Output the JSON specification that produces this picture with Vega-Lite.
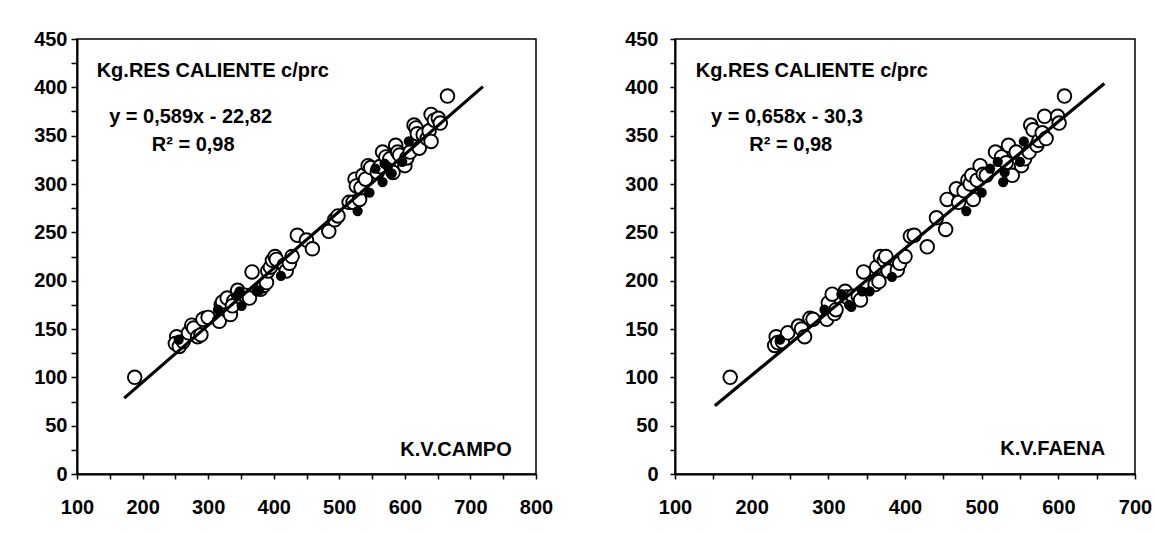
{
  "$schema": "https://vega.github.io/schema/vega-lite/v6.json",
  "padding": {"left": 0, "top": 28, "right": 5, "bottom": 5},
  "background": "white",
  "datasets": {
    "campo": [
      {"kv": 188, "kg": 100, "tipo": "abierto"},
      {"kv": 252, "kg": 142, "tipo": "abierto"},
      {"kv": 250, "kg": 135, "tipo": "abierto"},
      {"kv": 256, "kg": 132, "tipo": "abierto"},
      {"kv": 262, "kg": 137, "tipo": "abierto"},
      {"kv": 270, "kg": 146, "tipo": "abierto"},
      {"kv": 275, "kg": 154, "tipo": "abierto"},
      {"kv": 278, "kg": 151, "tipo": "abierto"},
      {"kv": 284, "kg": 142, "tipo": "abierto"},
      {"kv": 289, "kg": 144, "tipo": "abierto"},
      {"kv": 295, "kg": 161, "tipo": "abierto"},
      {"kv": 292, "kg": 160, "tipo": "abierto"},
      {"kv": 300, "kg": 162, "tipo": "abierto"},
      {"kv": 317, "kg": 158, "tipo": "abierto"},
      {"kv": 320, "kg": 175, "tipo": "abierto"},
      {"kv": 322, "kg": 178, "tipo": "abierto"},
      {"kv": 329, "kg": 182, "tipo": "abierto"},
      {"kv": 334, "kg": 165, "tipo": "abierto"},
      {"kv": 339, "kg": 179, "tipo": "abierto"},
      {"kv": 337, "kg": 174, "tipo": "abierto"},
      {"kv": 346, "kg": 186, "tipo": "abierto"},
      {"kv": 345, "kg": 190, "tipo": "abierto"},
      {"kv": 351, "kg": 182, "tipo": "abierto"},
      {"kv": 356, "kg": 185, "tipo": "abierto"},
      {"kv": 363, "kg": 182, "tipo": "abierto"},
      {"kv": 367, "kg": 209, "tipo": "abierto"},
      {"kv": 380, "kg": 191, "tipo": "abierto"},
      {"kv": 385, "kg": 195, "tipo": "abierto"},
      {"kv": 389, "kg": 198, "tipo": "abierto"},
      {"kv": 391, "kg": 210, "tipo": "abierto"},
      {"kv": 395, "kg": 214, "tipo": "abierto"},
      {"kv": 398, "kg": 221, "tipo": "abierto"},
      {"kv": 402, "kg": 225, "tipo": "abierto"},
      {"kv": 404, "kg": 222, "tipo": "abierto"},
      {"kv": 416, "kg": 216, "tipo": "abierto"},
      {"kv": 419, "kg": 210, "tipo": "abierto"},
      {"kv": 424, "kg": 218, "tipo": "abierto"},
      {"kv": 428, "kg": 225, "tipo": "abierto"},
      {"kv": 436, "kg": 247, "tipo": "abierto"},
      {"kv": 450, "kg": 242, "tipo": "abierto"},
      {"kv": 459, "kg": 233, "tipo": "abierto"},
      {"kv": 484, "kg": 251, "tipo": "abierto"},
      {"kv": 493, "kg": 263, "tipo": "abierto"},
      {"kv": 498, "kg": 267, "tipo": "abierto"},
      {"kv": 515, "kg": 281, "tipo": "abierto"},
      {"kv": 521, "kg": 281, "tipo": "abierto"},
      {"kv": 524, "kg": 305, "tipo": "abierto"},
      {"kv": 526, "kg": 298, "tipo": "abierto"},
      {"kv": 531, "kg": 284, "tipo": "abierto"},
      {"kv": 533, "kg": 296, "tipo": "abierto"},
      {"kv": 536, "kg": 309, "tipo": "abierto"},
      {"kv": 540, "kg": 305, "tipo": "abierto"},
      {"kv": 544, "kg": 319, "tipo": "abierto"},
      {"kv": 548, "kg": 317, "tipo": "abierto"},
      {"kv": 558, "kg": 312, "tipo": "abierto"},
      {"kv": 562, "kg": 318, "tipo": "abierto"},
      {"kv": 566, "kg": 333, "tipo": "abierto"},
      {"kv": 571, "kg": 328, "tipo": "abierto"},
      {"kv": 577, "kg": 326, "tipo": "abierto"},
      {"kv": 582, "kg": 312, "tipo": "abierto"},
      {"kv": 586, "kg": 340, "tipo": "abierto"},
      {"kv": 589, "kg": 333, "tipo": "abierto"},
      {"kv": 592, "kg": 330, "tipo": "abierto"},
      {"kv": 600, "kg": 319, "tipo": "abierto"},
      {"kv": 603, "kg": 327, "tipo": "abierto"},
      {"kv": 608, "kg": 333, "tipo": "abierto"},
      {"kv": 614, "kg": 361, "tipo": "abierto"},
      {"kv": 617, "kg": 358, "tipo": "abierto"},
      {"kv": 619, "kg": 352, "tipo": "abierto"},
      {"kv": 622, "kg": 337, "tipo": "abierto"},
      {"kv": 628, "kg": 351, "tipo": "abierto"},
      {"kv": 634, "kg": 347, "tipo": "abierto"},
      {"kv": 637, "kg": 355, "tipo": "abierto"},
      {"kv": 640, "kg": 372, "tipo": "abierto"},
      {"kv": 640, "kg": 344, "tipo": "abierto"},
      {"kv": 645, "kg": 366, "tipo": "abierto"},
      {"kv": 651, "kg": 368, "tipo": "abierto"},
      {"kv": 654, "kg": 363, "tipo": "abierto"},
      {"kv": 665, "kg": 391, "tipo": "abierto"},
      {"kv": 255, "kg": 139, "tipo": "lleno"},
      {"kv": 315, "kg": 170, "tipo": "lleno"},
      {"kv": 348, "kg": 189, "tipo": "lleno"},
      {"kv": 351, "kg": 174, "tipo": "lleno"},
      {"kv": 345, "kg": 185, "tipo": "lleno"},
      {"kv": 374, "kg": 189, "tipo": "lleno"},
      {"kv": 378, "kg": 190, "tipo": "lleno"},
      {"kv": 411, "kg": 205, "tipo": "lleno"},
      {"kv": 528, "kg": 272, "tipo": "lleno"},
      {"kv": 546, "kg": 291, "tipo": "lleno"},
      {"kv": 555, "kg": 316, "tipo": "lleno"},
      {"kv": 566, "kg": 302, "tipo": "lleno"},
      {"kv": 569, "kg": 321, "tipo": "lleno"},
      {"kv": 574, "kg": 318, "tipo": "lleno"},
      {"kv": 580, "kg": 311, "tipo": "lleno"},
      {"kv": 596, "kg": 323, "tipo": "lleno"},
      {"kv": 606, "kg": 344, "tipo": "lleno"}
    ],
    "faena": [
      {"kv": 172, "kg": 100, "tipo": "abierto"},
      {"kv": 232, "kg": 142, "tipo": "abierto"},
      {"kv": 230, "kg": 133, "tipo": "abierto"},
      {"kv": 234, "kg": 136, "tipo": "abierto"},
      {"kv": 240, "kg": 137, "tipo": "abierto"},
      {"kv": 247, "kg": 146, "tipo": "abierto"},
      {"kv": 261, "kg": 153, "tipo": "abierto"},
      {"kv": 265, "kg": 150, "tipo": "abierto"},
      {"kv": 269, "kg": 142, "tipo": "abierto"},
      {"kv": 276, "kg": 161, "tipo": "abierto"},
      {"kv": 280, "kg": 160, "tipo": "abierto"},
      {"kv": 298, "kg": 160, "tipo": "abierto"},
      {"kv": 300, "kg": 177, "tipo": "abierto"},
      {"kv": 305, "kg": 186, "tipo": "abierto"},
      {"kv": 308, "kg": 166, "tipo": "abierto"},
      {"kv": 310, "kg": 170, "tipo": "abierto"},
      {"kv": 322, "kg": 189, "tipo": "abierto"},
      {"kv": 324, "kg": 183, "tipo": "abierto"},
      {"kv": 332, "kg": 184, "tipo": "abierto"},
      {"kv": 339, "kg": 184, "tipo": "abierto"},
      {"kv": 342, "kg": 180, "tipo": "abierto"},
      {"kv": 346, "kg": 209, "tipo": "abierto"},
      {"kv": 361, "kg": 196, "tipo": "abierto"},
      {"kv": 363, "kg": 214, "tipo": "abierto"},
      {"kv": 366, "kg": 199, "tipo": "abierto"},
      {"kv": 368, "kg": 225, "tipo": "abierto"},
      {"kv": 373, "kg": 221, "tipo": "abierto"},
      {"kv": 375, "kg": 225, "tipo": "abierto"},
      {"kv": 378, "kg": 210, "tipo": "abierto"},
      {"kv": 390, "kg": 211, "tipo": "abierto"},
      {"kv": 393, "kg": 218, "tipo": "abierto"},
      {"kv": 400, "kg": 225, "tipo": "abierto"},
      {"kv": 407, "kg": 246, "tipo": "abierto"},
      {"kv": 412, "kg": 247, "tipo": "abierto"},
      {"kv": 429, "kg": 235, "tipo": "abierto"},
      {"kv": 441, "kg": 265, "tipo": "abierto"},
      {"kv": 453, "kg": 253, "tipo": "abierto"},
      {"kv": 455, "kg": 284, "tipo": "abierto"},
      {"kv": 467, "kg": 295, "tipo": "abierto"},
      {"kv": 470, "kg": 281, "tipo": "abierto"},
      {"kv": 477, "kg": 293, "tipo": "abierto"},
      {"kv": 482, "kg": 304, "tipo": "abierto"},
      {"kv": 485, "kg": 300, "tipo": "abierto"},
      {"kv": 487, "kg": 309, "tipo": "abierto"},
      {"kv": 489, "kg": 284, "tipo": "abierto"},
      {"kv": 494, "kg": 304, "tipo": "abierto"},
      {"kv": 498, "kg": 319, "tipo": "abierto"},
      {"kv": 502, "kg": 310, "tipo": "abierto"},
      {"kv": 506, "kg": 309, "tipo": "abierto"},
      {"kv": 518, "kg": 333, "tipo": "abierto"},
      {"kv": 526, "kg": 328, "tipo": "abierto"},
      {"kv": 532, "kg": 322, "tipo": "abierto"},
      {"kv": 535, "kg": 340, "tipo": "abierto"},
      {"kv": 540, "kg": 309, "tipo": "abierto"},
      {"kv": 545, "kg": 333, "tipo": "abierto"},
      {"kv": 552, "kg": 319, "tipo": "abierto"},
      {"kv": 556, "kg": 326, "tipo": "abierto"},
      {"kv": 562, "kg": 333, "tipo": "abierto"},
      {"kv": 564, "kg": 361, "tipo": "abierto"},
      {"kv": 567, "kg": 356, "tipo": "abierto"},
      {"kv": 572, "kg": 340, "tipo": "abierto"},
      {"kv": 575, "kg": 345, "tipo": "abierto"},
      {"kv": 579, "kg": 353, "tipo": "abierto"},
      {"kv": 582, "kg": 370, "tipo": "abierto"},
      {"kv": 584, "kg": 347, "tipo": "abierto"},
      {"kv": 599, "kg": 370, "tipo": "abierto"},
      {"kv": 601, "kg": 363, "tipo": "abierto"},
      {"kv": 608, "kg": 391, "tipo": "abierto"},
      {"kv": 237, "kg": 139, "tipo": "lleno"},
      {"kv": 295, "kg": 170, "tipo": "lleno"},
      {"kv": 317, "kg": 186, "tipo": "lleno"},
      {"kv": 327, "kg": 175, "tipo": "lleno"},
      {"kv": 330, "kg": 173, "tipo": "lleno"},
      {"kv": 344, "kg": 189, "tipo": "lleno"},
      {"kv": 354, "kg": 189, "tipo": "lleno"},
      {"kv": 383, "kg": 204, "tipo": "lleno"},
      {"kv": 480, "kg": 272, "tipo": "lleno"},
      {"kv": 500, "kg": 291, "tipo": "lleno"},
      {"kv": 511, "kg": 316, "tipo": "lleno"},
      {"kv": 521, "kg": 323, "tipo": "lleno"},
      {"kv": 528, "kg": 302, "tipo": "lleno"},
      {"kv": 530, "kg": 312, "tipo": "lleno"},
      {"kv": 550, "kg": 323, "tipo": "lleno"},
      {"kv": 555, "kg": 344, "tipo": "lleno"}
    ],
    "ajusteCampo": [{"kv": 172, "kg": 78.5}, {"kv": 719, "kg": 400.7}],
    "ajusteFaena": [{"kv": 152, "kg": 70.5}, {"kv": 660, "kg": 404}],
    "textosCampo": [
      {"kv": 130, "kg": 411, "texto": "Kg.RES CALIENTE c/prc"},
      {"kv": 149, "kg": 363, "texto": "y = 0,589x - 22,82"},
      {"kv": 214, "kg": 334, "texto": "R² = 0,98"}
    ],
    "textosFaena": [
      {"kv": 127, "kg": 411, "texto": "Kg.RES CALIENTE c/prc"},
      {"kv": 147, "kg": 363, "texto": "y = 0,658x - 30,3"},
      {"kv": 197, "kg": 334, "texto": "R² = 0,98"}
    ],
    "rotuloCampo": [{"kv": 763, "kg": 19, "texto": "K.V.CAMPO"}],
    "rotuloFaena": [{"kv": 661, "kg": 20, "texto": "K.V.FAENA"}]
  },
  "hconcat": [
    {
      "width": 459,
      "height": 435,
      "encoding": {
        "x": {"field": "kv", "type": "quantitative", "title": null,
          "scale": {"domain": [100, 800], "nice": false, "zero": false},
          "axis": {"values": [100,150,200,250,300,350,400,450,500,550,600,650,700,750,800],
            "labelExpr": "datum.value % 100 === 0 ? datum.label : ''", "tickSize": 5, "labelPadding": 18, "labelFlush": false}},
        "y": {"field": "kg", "type": "quantitative", "title": null,
          "scale": {"domain": [0, 450], "nice": false, "zero": true},
          "axis": {"values": [0,25,50,75,100,125,150,175,200,225,250,275,300,325,350,375,400,425,450],
            "labelExpr": "datum.value % 50 === 0 ? datum.label : ''", "tickSize": 6, "labelPadding": 4,
            "minExtent": 76, "maxExtent": 76}}
      },
      "layer": [
        {"data": {"name": "campo"}, "transform": [{"filter": "datum.tipo === 'abierto'"}],
          "mark": {"type": "point", "shape": "circle", "filled": false, "fill": "white", "fillOpacity": 1, "stroke": "black", "strokeWidth": 1.9, "size": 185, "opacity": 1}},
        {"data": {"name": "campo"}, "transform": [{"filter": "datum.tipo === 'lleno'"}],
          "mark": {"type": "circle", "color": "black", "size": 105, "opacity": 1}},
        {"data": {"name": "ajusteCampo"}, "mark": {"type": "line", "color": "black", "strokeWidth": 3.2}},
        {"data": {"name": "textosCampo"},
          "mark": {"type": "text", "align": "left", "baseline": "alphabetic", "font": "Liberation Sans", "fontSize": 20, "fontWeight": "bold", "color": "black"},
          "encoding": {"text": {"field": "texto"}}},
        {"data": {"name": "rotuloCampo"},
          "mark": {"type": "text", "align": "right", "baseline": "alphabetic", "font": "Liberation Sans", "fontSize": 20, "fontWeight": "bold", "color": "black"},
          "encoding": {"text": {"field": "texto"}}}
      ]
    },
    {
      "width": 460,
      "height": 435,
      "encoding": {
        "x": {"field": "kv", "type": "quantitative", "title": null,
          "scale": {"domain": [100, 700], "nice": false, "zero": false},
          "axis": {"values": [100,150,200,250,300,350,400,450,500,550,600,650,700],
            "labelExpr": "datum.value % 100 === 0 ? datum.label : ''", "tickSize": 5, "labelPadding": 18, "labelFlush": false}},
        "y": {"field": "kg", "type": "quantitative", "title": null,
          "scale": {"domain": [0, 450], "nice": false, "zero": true},
          "axis": {"values": [0,25,50,75,100,125,150,175,200,225,250,275,300,325,350,375,400,425,450],
            "labelExpr": "datum.value % 50 === 0 ? datum.label : ''", "tickSize": 5, "labelPadding": 12,
            "minExtent": 76, "maxExtent": 76}}
      },
      "layer": [
        {"data": {"name": "faena"}, "transform": [{"filter": "datum.tipo === 'abierto'"}],
          "mark": {"type": "point", "shape": "circle", "filled": false, "fill": "white", "fillOpacity": 1, "stroke": "black", "strokeWidth": 1.9, "size": 185, "opacity": 1}},
        {"data": {"name": "faena"}, "transform": [{"filter": "datum.tipo === 'lleno'"}],
          "mark": {"type": "circle", "color": "black", "size": 105, "opacity": 1}},
        {"data": {"name": "ajusteFaena"}, "mark": {"type": "line", "color": "black", "strokeWidth": 3.2}},
        {"data": {"name": "textosFaena"},
          "mark": {"type": "text", "align": "left", "baseline": "alphabetic", "font": "Liberation Sans", "fontSize": 20, "fontWeight": "bold", "color": "black"},
          "encoding": {"text": {"field": "texto"}}},
        {"data": {"name": "rotuloFaena"},
          "mark": {"type": "text", "align": "right", "baseline": "alphabetic", "font": "Liberation Sans", "fontSize": 20, "fontWeight": "bold", "color": "black"},
          "encoding": {"text": {"field": "texto"}}}
      ]
    }
  ],
  "spacing": 44,
  "config": {
    "font": "Liberation Sans",
    "view": {"stroke": "black", "strokeWidth": 1.5},
    "axis": {
      "grid": false,
      "domainColor": "black",
      "domainWidth": 2,
      "tickColor": "black",
      "tickWidth": 1.5,
      "labelFont": "Liberation Sans",
      "labelFontSize": 20,
      "labelFontWeight": "bold",
      "labelColor": "black",
      "labelOverlap": false
    }
  }
}
